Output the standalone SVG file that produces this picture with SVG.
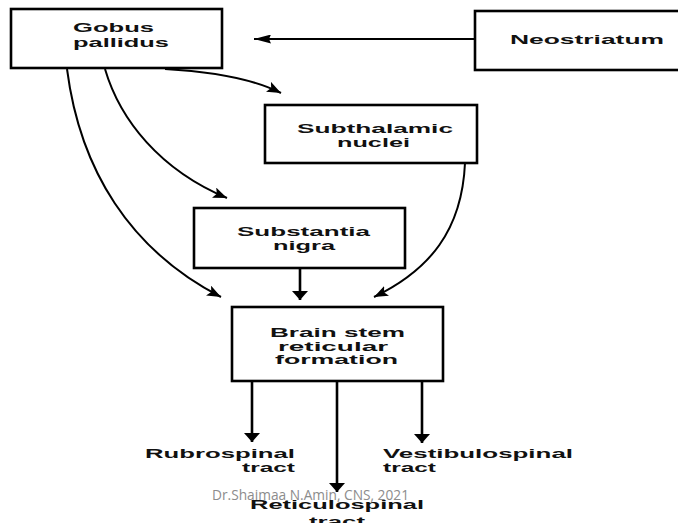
<svg xmlns="http://www.w3.org/2000/svg" width="678" height="523" viewBox="0 0 678 523">
<style>
.box{fill:#fff;stroke:#000;stroke-width:2.6}
.lbl{font-family:"Liberation Sans",Arial,sans-serif;font-weight:bold;font-size:13.5px;fill:#111}
.con{fill:none;stroke:#000;stroke-width:2}
.vert{fill:none;stroke:#000;stroke-width:2.6}
.wm{font-family:"Open Sans","Liberation Sans",sans-serif;font-size:14px;fill:#8c8c8c}
</style>
<defs>
<marker id="ac" markerUnits="userSpaceOnUse" markerWidth="14" markerHeight="11" refX="14" refY="5.5" orient="auto"><path d="M0,0 L14,5.5 L0,11 L3,5.5 z" fill="#000"/></marker>
<marker id="av" markerUnits="userSpaceOnUse" markerWidth="9" markerHeight="16" refX="9" refY="8" orient="auto"><path d="M0,0 L9,8 L0,16 z" fill="#000"/></marker>
<marker id="ah" markerUnits="userSpaceOnUse" markerWidth="17" markerHeight="9" refX="17" refY="4.5" orient="auto"><path d="M0,0 L17,4.5 L0,9 L2,4.5 z" fill="#000"/></marker>
</defs>
<rect width="678" height="523" fill="#fff"/>
<g id="connectors">
<path class="con" d="M475,39 L254,39" marker-end="url(#ah)"/>
<path class="con" d="M165,69 C220,72 255,80 281,93" marker-end="url(#ac)"/>
<path class="con" d="M105,69 C120,120 160,170 227,198" marker-end="url(#ac)"/>
<path class="con" d="M67,69 C80,170 130,250 221,297" marker-end="url(#ac)"/>
<path class="con" d="M465,163 C462,230 430,270 374,297" marker-end="url(#ac)"/>
<path class="vert" d="M300,268 L300,300" marker-end="url(#av)"/>
<path class="vert" d="M252,381 L252,442" marker-end="url(#av)"/>
<path class="vert" d="M337,381 L337,492" marker-end="url(#av)"/>
<path class="vert" d="M422,381 L422,443" marker-end="url(#av)"/>
</g>
<g id="gobus-pallidus">
<rect class="box" x="11" y="9" width="211" height="59"/>
<text class="lbl" x="73" y="32" textLength="81" lengthAdjust="spacingAndGlyphs">Gobus</text>
<text class="lbl" x="73" y="47" textLength="96" lengthAdjust="spacingAndGlyphs">pallidus</text>
</g>
<g id="neostriatum">
<rect class="box" x="475" y="11" width="220" height="59"/>
<text class="lbl" x="510" y="44" textLength="154" lengthAdjust="spacingAndGlyphs">Neostriatum</text>
</g>
<g id="subthalamic-nuclei">
<rect class="box" x="265" y="105" width="212" height="58"/>
<text class="lbl" x="297" y="133" textLength="156" lengthAdjust="spacingAndGlyphs">Subthalamic</text>
<text class="lbl" x="337" y="147" textLength="73" lengthAdjust="spacingAndGlyphs">nuclei</text>
</g>
<g id="substantia-nigra">
<rect class="box" x="194" y="208" width="211" height="60"/>
<text class="lbl" x="237" y="236" textLength="133" lengthAdjust="spacingAndGlyphs">Substantia</text>
<text class="lbl" x="273" y="250" textLength="62" lengthAdjust="spacingAndGlyphs">nigra</text>
</g>
<g id="brain-stem-reticular-formation">
<rect class="box" x="232" y="307" width="211" height="74"/>
<text class="lbl" x="270" y="337" textLength="135" lengthAdjust="spacingAndGlyphs">Brain stem</text>
<text class="lbl" x="278" y="351" textLength="110" lengthAdjust="spacingAndGlyphs">reticular</text>
<text class="lbl" x="275" y="364" textLength="123" lengthAdjust="spacingAndGlyphs">formation</text>
</g>
<g id="rubrospinal-tract">
<text class="lbl" x="145" y="458" textLength="150" lengthAdjust="spacingAndGlyphs">Rubrospinal</text>
<text class="lbl" x="242" y="472" textLength="53" lengthAdjust="spacingAndGlyphs">tract</text>
</g>
<g id="vestibulospinal-tract">
<text class="lbl" x="383" y="458" textLength="190" lengthAdjust="spacingAndGlyphs">Vestibulospinal</text>
<text class="lbl" x="383" y="472" textLength="53" lengthAdjust="spacingAndGlyphs">tract</text>
</g>
<g id="reticulospinal-tract">
<text class="lbl" x="250" y="509" textLength="174" lengthAdjust="spacingAndGlyphs">Reticulospinal</text>
<text class="lbl" x="309" y="526" textLength="56" lengthAdjust="spacingAndGlyphs">tract</text>
</g>
<text class="wm" x="212" y="500" textLength="197" lengthAdjust="spacingAndGlyphs">Dr.Shaimaa N.Amin, CNS, 2021</text>
</svg>
